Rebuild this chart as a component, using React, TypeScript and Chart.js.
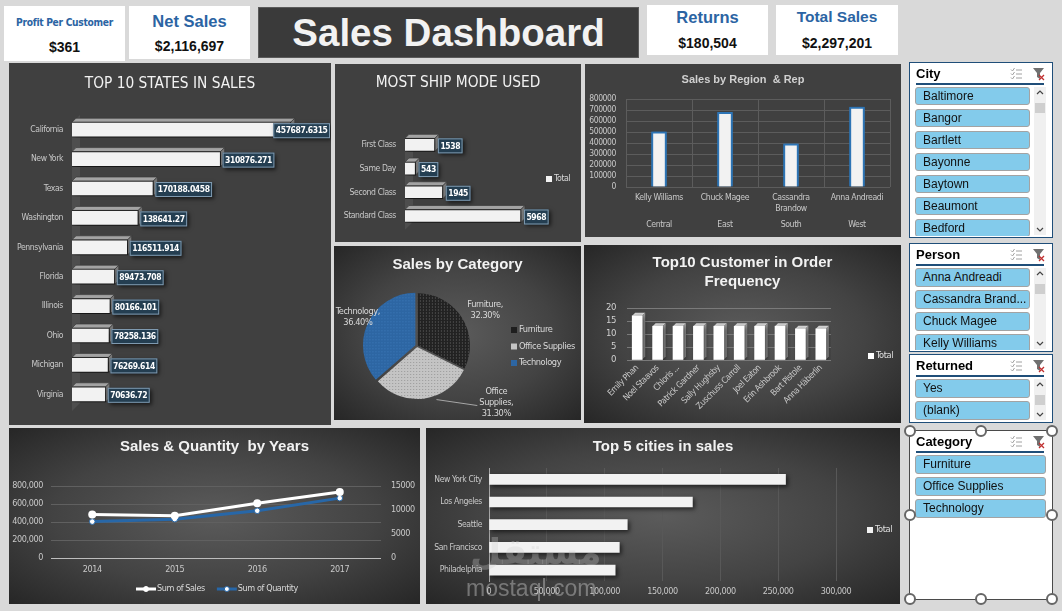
import React, { useEffect, useRef } from "react";
import { Chart, registerables } from "chart.js";
Chart.register(...registerables);

const NARROW = "'Liberation Sans Narrow', 'DejaVu Sans Condensed', 'Liberation Sans', sans-serif";
const SANS = "'Liberation Sans', Arial, sans-serif";

// ---------- data ----------
const kpiTitles = ["Profit Per Customer", "Net Sales", "Returns", "Total Sales"];
const kpiValues = ["$361", "$2,116,697", "$180,504", "$2,297,201"];

const stateNames = ["California", "New York", "Texas", "Washington", "Pennsylvania", "Florida", "Illinois", "Ohio", "Michigan", "Virginia"];
const stateSales = [457687.6315, 310876.271, 170188.0458, 138641.27, 116511.914, 89473.708, 80166.101, 78258.136, 76269.614, 70636.72];

const shipModes = ["First Class", "Same Day", "Second Class", "Standard Class"];
const shipCounts = [1538, 543, 1945, 5968];

const regionReps = ["Kelly Williams", "Chuck Magee", "Cassandra Brandow", "Anna Andreadi"];
const regionNames = ["Central", "East", "South", "West"];
const regionSales = [501240, 678781, 391722, 725458];

const categoryNames = ["Furniture", "Office Supplies", "Technology"];
const categorySales = [741999.8, 719047.0, 836154.0];

const customerNames = ["Emily Phan", "Noel Staavos", "Chloris Kastensmidt", "Patrick Gardner", "Sally Hughsby", "Zuschuss Carroll", "Joel Eaton", "Erin Ashbrook", "Bart Pistole", "Anna Häberlin"];
const customerOrders = [17, 13, 13, 13, 13, 13, 13, 13, 12, 12];

const years = ["2014", "2015", "2016", "2017"];
const yearSales = [484247, 470533, 609206, 733215];
const yearQuantity = [7581, 8094, 9837, 12476];

const cityNames = ["New York City", "Los Angeles", "Seattle", "San Francisco", "Philadelphia"];
const citySales = [256368, 175851, 119541, 112669, 109077];

const slicerCity = ["Baltimore", "Bangor", "Bartlett", "Bayonne", "Baytown", "Beaumont", "Bedford"];
const slicerPerson = ["Anna Andreadi", "Cassandra Brandow", "Chuck Magee", "Kelly Williams"];
const slicerReturned = ["Yes", "(blank)"];
const slicerCategory = ["Furniture", "Office Supplies", "Technology"];

// ---------- plugins ----------
const tightText = {
  id: "tightText",
  beforeUpdate(chart: any, _a: any, o: any) { chart.ctx.letterSpacing = o.spacing; },
  beforeLayout(chart: any, _a: any, o: any) { chart.ctx.letterSpacing = o.spacing; },
  beforeDraw(chart: any, _a: any, o: any) { chart.ctx.letterSpacing = o.spacing; },
  defaults: { spacing: "-0.4px" },
};
Chart.register(tightText);

const bar3d = {
  id: "bar3d",
  beforeDatasetsDraw(chart: any, _a: any, o: any) {
    if (!o || !o.depth) return;
    const ctx = chart.ctx;
    const d = o.depth;
    const horiz = chart.options.indexAxis === "y";
    const ca = chart.chartArea;
    if (o.wall) {
      ctx.save();
      ctx.fillStyle = o.wall;
      ctx.beginPath();
      ctx.moveTo(ca.left, ca.top + 8);
      ctx.lineTo(ca.left + d * 2, ca.top);
      ctx.lineTo(ca.left + d * 2, ca.bottom - 6);
      ctx.lineTo(ca.left, ca.bottom + 2);
      ctx.closePath();
      ctx.fill();
      ctx.restore();
    }
    chart.getDatasetMeta(0).data.forEach((el: any) => {
      const p = el.getProps(["x", "y", "base", "width", "height"], true);
      let l, r, t, b;
      if (horiz) {
        l = Math.min(p.base, p.x); r = Math.max(p.base, p.x);
        t = p.y - p.height / 2; b = p.y + p.height / 2;
      } else {
        l = p.x - p.width / 2; r = p.x + p.width / 2;
        t = Math.min(p.y, p.base); b = Math.max(p.y, p.base);
      }
      ctx.save();
      ctx.fillStyle = o.top;
      ctx.beginPath();
      ctx.moveTo(l, t); ctx.lineTo(l + d, t - d); ctx.lineTo(r + d, t - d); ctx.lineTo(r, t);
      ctx.closePath(); ctx.fill();
      if (o.edge) { ctx.strokeStyle = o.edge; ctx.lineWidth = 0.7; ctx.stroke(); }
      ctx.fillStyle = o.side;
      ctx.beginPath();
      ctx.moveTo(r, t); ctx.lineTo(r + d, t - d); ctx.lineTo(r + d, b - d); ctx.lineTo(r, b);
      ctx.closePath(); ctx.fill();
      if (o.edge) ctx.stroke();
      ctx.restore();
    });
  },
};

const dsShadow = {
  id: "dsShadow",
  beforeDatasetsDraw(chart: any, _a: any, o: any) {
    if (!o || !o.color) return;
    const ctx = chart.ctx;
    ctx.save();
    ctx.shadowColor = o.color;
    ctx.shadowBlur = o.blur || 4;
    ctx.shadowOffsetX = o.x || 0;
    ctx.shadowOffsetY = o.y || 0;
  },
  afterDatasetsDraw(chart: any, _a: any, o: any) {
    if (!o || !o.color) return;
    chart.ctx.restore();
  },
};

const valueBox = {
  id: "valueBox",
  afterDatasetsDraw(chart: any, _a: any, o: any) {
    if (!o || !o.font) return;
    const ctx = chart.ctx;
    const ds = chart.data.datasets[0];
    ctx.save();
    ctx.font = o.font;
    chart.getDatasetMeta(0).data.forEach((el: any, i: number) => {
      const text = String(ds.data[i]);
      const w = ctx.measureText(text).width + 5;
      const h = o.h;
      let bx = el.x + o.gap;
      if (bx + w > chart.width - 1) bx = chart.width - 1 - w;
      const by = el.y - h / 2 + (o.dy || 0);
      ctx.save();
      ctx.shadowColor = "rgba(0,0,0,0.6)";
      ctx.shadowBlur = 4;
      ctx.shadowOffsetX = 2;
      ctx.shadowOffsetY = 2;
      ctx.fillStyle = o.fill;
      ctx.fillRect(bx, by, w, h);
      ctx.restore();
      ctx.strokeStyle = o.stroke;
      ctx.lineWidth = 1;
      ctx.strokeRect(bx + 0.5, by + 0.5, w - 1, h - 1);
      ctx.fillStyle = "#ffffff";
      ctx.textBaseline = "middle";
      ctx.textAlign = "left";
      ctx.fillText(text, bx + 2.5, by + h / 2 + 0.5);
    });
    ctx.restore();
  },
};

const manualLegend = {
  id: "manualLegend",
  afterDraw(chart: any, _a: any, o: any) {
    if (!o || !o.show) return;
    const ctx = chart.ctx;
    const items = o.fromData
      ? chart.data.labels.map((l: string, i: number) => ({ text: l, color: o.colors[i] }))
      : chart.data.datasets.map((d: any, i: number) => ({ text: d.label, color: o.colors ? o.colors[i] : d.borderColor }));
    ctx.save();
    ctx.font = o.font;
    ctx.textBaseline = "middle";
    ctx.textAlign = "left";
    let x = o.x;
    let y = o.y;
    items.forEach((it: any) => {
      let tx;
      if (o.marker === "line") {
        ctx.strokeStyle = it.color;
        ctx.lineWidth = 3;
        ctx.beginPath(); ctx.moveTo(x, y); ctx.lineTo(x + o.lineLen, y); ctx.stroke();
        ctx.fillStyle = "#ffffff";
        ctx.beginPath(); ctx.arc(x + o.lineLen / 2, y, 2.5, 0, Math.PI * 2); ctx.fill();
        ctx.lineWidth = 1; ctx.stroke();
        tx = x + o.lineLen + 1;
      } else {
        const s = o.box || 6;
        ctx.fillStyle = it.color;
        ctx.fillRect(x, y - s / 2, s, s);
        tx = x + s + 2;
      }
      ctx.fillStyle = o.textColor;
      ctx.fillText(it.text, tx, y);
      if (o.horizontal) x = tx + ctx.measureText(it.text).width + o.gap;
      else y += o.dy;
    });
    ctx.restore();
  },
};

const pieLabels = {
  id: "pieLabels",
  afterDatasetsDraw(chart: any, _a: any, o: any) {
    if (!o || !o.place) return;
    const ctx = chart.ctx;
    const data = chart.data.datasets[0].data;
    const total = data.reduce((s: number, v: number) => s + v, 0);
    ctx.save();
    ctx.font = o.font;
    ctx.fillStyle = o.color;
    ctx.textAlign = "center";
    ctx.textBaseline = "middle";
    chart.getDatasetMeta(0).data.forEach((arc: any, i: number) => {
      const p = arc.getProps(["x", "y", "startAngle", "endAngle", "outerRadius"], true);
      const mid = (p.startAngle + p.endAngle) / 2;
      const pl = o.place[i];
      const R = p.outerRadius + pl.dist;
      const cx = p.x + Math.cos(mid) * R + pl.dx;
      const cy = p.y + Math.sin(mid) * R + pl.dy;
      const label = chart.data.labels[i] + ",";
      const pct = ((data[i] / total) * 100).toFixed(2) + "%";
      const lines = pl.wrap ? [...label.split(" "), pct] : [label, pct];
      const lh = o.lineHeight;
      const y0 = cy - ((lines.length - 1) * lh) / 2;
      lines.forEach((ln: string, k: number) => ctx.fillText(ln, cx, y0 + k * lh));
      if (pl.leader) {
        const a = mid - 0.22;
        const sx = p.x + Math.cos(a) * (p.outerRadius + 5);
        const sy = p.y + Math.sin(a) * (p.outerRadius + 5);
        const w = ctx.measureText(lines[1]).width;
        ctx.strokeStyle = o.lineColor;
        ctx.lineWidth = 1;
        ctx.beginPath();
        ctx.moveTo(sx, sy);
        ctx.lineTo(cx - w / 2 - 2, y0 + lh + 3);
        ctx.stroke();
      }
    });
    ctx.restore();
  },
};

function dotPattern(ctx: CanvasRenderingContext2D, bg: string, dot: string, step: number) {
  const c = document.createElement("canvas");
  c.width = step; c.height = step;
  const g = c.getContext("2d")!;
  g.fillStyle = bg; g.fillRect(0, 0, step, step);
  g.fillStyle = dot; g.fillRect(1, 1, 1, 1);
  return ctx.createPattern(c, "repeat");
}

// ---------- components ----------
function ChartCanvas({ w, h, make }: { w: number; h: number; make: (ctx: CanvasRenderingContext2D) => any }) {
  const ref = useRef<HTMLCanvasElement>(null);
  useEffect(() => {
    const c = ref.current!;
    const ctx = c.getContext("2d")!;
    const chart = new Chart(ctx, make(ctx));
    return () => chart.destroy();
  }, []);
  return <canvas ref={ref} width={w} height={h} style={{ position: "absolute", left: 0, top: 0, width: w, height: h }} />;
}

const RADIAL = "radial-gradient(ellipse at 50% 50%, #5b5b5b 0%, #434343 55%, #262626 100%)";

function Panel(props: any) {
  const { x, y, w, h, bg, title, tTop, tFont, tColor, tLh, make } = props;
  return (
    <div style={{ position: "absolute", left: x, top: y, width: w, height: h, background: bg, overflow: "hidden" }}>
      <ChartCanvas w={w} h={h} make={make} />
      <div style={{ position: "absolute", left: 0, top: tTop, width: w, textAlign: "center", whiteSpace: "pre", font: tFont, color: tColor, lineHeight: tLh + "px" }}>{title}</div>
    </div>
  );
}

const truncate = (s: string, n: number) => (s.length > n ? s.slice(0, n) + "..." : s);

function FilterIcons({ x }: { x: number }) {
  return (
    <svg style={{ position: "absolute", left: x, top: 4 }} width="36" height="14" viewBox="0 0 36 14">
      <g stroke="#a0a0a0" strokeWidth="1" fill="none">
        <path d="M1 2.5 l1.5 1.5 l2 -3" />
        <path d="M1 6.5 l1.5 1.5 l2 -3" />
        <path d="M1 10.5 l1.5 1.5 l2 -3" />
        <line x1="6" y1="3" x2="12" y2="3" />
        <line x1="6" y1="7" x2="12" y2="7" />
        <line x1="6" y1="11" x2="12" y2="11" />
      </g>
      <path d="M23 1 h11 l-4 5 v6 l-3 -2 v-4 z" fill="#707070" />
      <path d="M29 8 l5 5 M34 8 l-5 5" stroke="#c03030" strokeWidth="1.3" />
    </svg>
  );
}

function Slicer(props: any) {
  const { x, y, w, h, title, items, scroll, handles, itemH, border } = props;
  const itemW = scroll ? 115 : 131;
  const listH = h - 26;
  return (
    <div style={{ position: "absolute", left: x, top: y, width: w, height: h, background: "#ffffff", border: `1px solid ${border || "#1f4e79"}`, boxSizing: "border-box" }}>
      <div style={{ position: "absolute", left: 6, top: 3, font: `bold 13px ${SANS}`, color: "#000", lineHeight: "15px" }}>{title}</div>
      <FilterIcons x={w - 44} />
      <div style={{ position: "absolute", left: 6, top: 20, width: w - 16, height: 2, background: "#1f4e79" }} />
      <div style={{ position: "absolute", left: 0, top: 23, width: w - 2, height: listH, overflow: "hidden" }}>
        {items.map((it: string, i: number) => (
          <div key={i} style={{ position: "absolute", left: 5, top: 1 + i * 22, width: itemW, height: itemH, background: "#83cbeb", border: "1px solid #a3a3a3", borderRadius: 3, boxSizing: "border-box", font: `12px ${SANS}`, lineHeight: itemH - 2 + "px", paddingLeft: 7, color: "#111", whiteSpace: "nowrap", overflow: "hidden" }}>{truncate(it, 15)}</div>
        ))}
      </div>
      {scroll && (
        <div style={{ position: "absolute", left: w - 20, top: 24, width: 12, height: listH - 2, background: "#f0f0f0" }}>
          <svg style={{ position: "absolute", left: 2, top: 2 }} width="8" height="6"><path d="M1 5 L4 2 L7 5" stroke="#444" fill="none" strokeWidth="1.2" /></svg>
          <div style={{ position: "absolute", left: 1, top: 16, width: 10, height: 10, background: "#cfcfcf" }} />
          <svg style={{ position: "absolute", left: 2, bottom: 2 }} width="8" height="6"><path d="M1 1 L4 4 L7 1" stroke="#444" fill="none" strokeWidth="1.2" /></svg>
        </div>
      )}
      {handles &&
        [[0, 0], [0.5, 0], [1, 0], [0, 0.5], [1, 0.5], [0, 1], [0.5, 1], [1, 1]].map((p, i) => (
          <div key={i} style={{ position: "absolute", left: p[0] * (w - 2) - 6, top: p[1] * (h - 2) - 6, width: 12, height: 12, borderRadius: 6, background: "#fff", border: "2px solid #666", boxSizing: "border-box" }} />
        ))}
    </div>
  );
}

function Kpi(props: any) {
  const { x, y, w, h, title, value, tSize, tTop, vTop, narrow } = props;
  return (
    <div style={{ position: "absolute", left: x, top: y, width: w, height: h, background: "#ffffff" }}>
      <div style={{ position: "absolute", left: 0, width: w, top: tTop, textAlign: "center", color: "#2b64a3", font: `bold ${tSize}px ${narrow ? NARROW : SANS}`, lineHeight: "20px", letterSpacing: narrow ? "-0.3px" : "normal" }}>{title}</div>
      <div style={{ position: "absolute", left: 0, width: w, top: vTop, textAlign: "center", color: "#111", font: `bold 14px ${SANS}`, lineHeight: "18px" }}>{value}</div>
    </div>
  );
}

// ---------- chart configs ----------
const LBL = "#c8c8c8";
const noTicks = { drawTicks: false };

function statesConfig() {
  return {
    type: "bar",
    data: { labels: stateNames, datasets: [{ label: "Total", data: stateSales, backgroundColor: "#f2f2f2", borderColor: "#2a2a2a", borderWidth: 1, barThickness: 15 }] },
    options: {
      indexAxis: "y", animation: false, responsive: false,
      layout: { padding: { top: 52, bottom: 16, left: 0, right: 20 } },
      plugins: {
        legend: { display: false }, tooltip: { enabled: false },
        bar3d: { depth: 4, top: "#a3a3a3", side: "#7a7a7a", edge: "#3a3a3a", wall: "#4e4e4e" },
        dsShadow: { color: "rgba(0,0,0,0.55)", blur: 5, x: 3, y: 3 },
        valueBox: { font: `bold 8.5px ${NARROW}`, fill: "#243e51", stroke: "#7f9ab0", h: 15, gap: 2, dy: 1 },
      },
      scales: {
        x: { display: false, min: 0, max: 500000 },
        y: { grid: { display: false, ...noTicks }, border: { display: false }, ticks: { color: LBL, font: { size: 8.6, family: NARROW }, padding: 9, autoSkip: false }, afterFit: (s: any) => { s.width = 63; } },
      },
    },
    plugins: [bar3d, dsShadow, valueBox],
  };
}

function shipConfig() {
  return {
    type: "bar",
    data: { labels: shipModes, datasets: [{ label: "Total", data: shipCounts, backgroundColor: "#f2f2f2", borderColor: "#2a2a2a", borderWidth: 1, barThickness: 13 }] },
    options: {
      indexAxis: "y", animation: false, responsive: false,
      layout: { padding: { top: 69, bottom: 12, left: 0, right: 40 } },
      plugins: {
        legend: { display: false }, tooltip: { enabled: false },
        bar3d: { depth: 4, top: "#a3a3a3", side: "#7a7a7a", edge: "#3a3a3a", wall: "#4e4e4e" },
        dsShadow: { color: "rgba(0,0,0,0.55)", blur: 5, x: 3, y: 3 },
        valueBox: { font: `bold 8.5px ${NARROW}`, fill: "#243e51", stroke: "#7f9ab0", h: 15, gap: 3, dy: 1 },
        manualLegend: { show: true, x: 211, y: 115, font: `8.8px ${NARROW}`, textColor: "#d9d9d9", colors: ["#f2f2f2"], box: 6 },
      },
      scales: {
        x: { display: false, min: 0, max: 7000 },
        y: { grid: { display: false, ...noTicks }, border: { display: false }, ticks: { color: LBL, font: { size: 8.6, family: NARROW }, padding: 9, autoSkip: false }, afterFit: (s: any) => { s.width = 70; } },
      },
    },
    plugins: [bar3d, dsShadow, valueBox, manualLegend],
  };
}

function regionConfig() {
  return {
    type: "bar",
    data: {
      labels: regionReps.map((r) => (r.length > 15 ? r.split(" ") : r)),
      datasets: [{ label: "Total", data: regionSales, backgroundColor: "#f2f2f2", borderColor: "#2e75b6", borderWidth: 2, barThickness: 15 }],
    },
    options: {
      animation: false, responsive: false,
      layout: { padding: { top: 35, bottom: 6, left: 0, right: 11 } },
      plugins: { legend: { display: false }, tooltip: { enabled: false }, dsShadow: { color: "rgba(46,117,182,0.9)", blur: 5 } },
      scales: {
        x: { grid: { color: "#5c5c5c", ...noTicks }, border: { display: false }, ticks: { color: LBL, font: { size: 8.7, family: NARROW }, padding: 6, autoSkip: false, maxRotation: 0 }, afterFit: (s: any) => { s.height = 28; } },
        x2: { type: "category", labels: regionNames, position: "bottom", grid: { display: false, ...noTicks }, border: { display: false }, ticks: { color: LBL, font: { size: 8.7, family: NARROW }, padding: 5 }, afterFit: (s: any) => { s.height = 16; } },
        y: { min: 0, max: 800000, grid: { color: "#5c5c5c", ...noTicks }, border: { display: false }, ticks: { stepSize: 100000, autoSkip: false, color: LBL, font: { size: 8.5, family: NARROW }, padding: 10, callback: (v: any) => String(v) }, afterFit: (s: any) => { s.width = 41; } },
      },
    },
    plugins: [dsShadow],
  };
}

function pieConfig(ctx: CanvasRenderingContext2D) {
  const pats = [dotPattern(ctx, "#222222", "#6a6a6a", 3), dotPattern(ctx, "#c4c4c4", "#9a9a9a", 3), dotPattern(ctx, "#2d66a3", "#3f7bbb", 3)];
  return {
    type: "pie",
    data: { labels: categoryNames, datasets: [{ data: categorySales, backgroundColor: pats, borderWidth: 0, offset: [4, 4, 7], radius: 52 }] },
    options: {
      animation: false, responsive: false,
      layout: { padding: { left: 25, top: 42, right: 106, bottom: 16 } },
      plugins: {
        legend: { display: false }, tooltip: { enabled: false },
        pieLabels: {
          font: `9.2px ${NARROW}`, color: "#d9d9d9", lineColor: "#a6a6a6", lineHeight: 11,
          place: [{ dist: 27, dx: 1, dy: 6 }, { dist: 5, dx: 72, dy: 0, wrap: true, leader: true }, { dist: 13, dx: 0, dy: -2 }],
        },
        manualLegend: { show: true, fromData: true, x: 177, y: 84, dy: 16.5, font: `9.2px ${NARROW}`, textColor: "#d9d9d9", colors: ["#1e1e1e", "#c4c4c4", "#2d66a3"], box: 6 },
      },
    },
    plugins: [pieLabels, manualLegend],
  };
}

function customerConfig() {
  return {
    type: "bar",
    data: { labels: customerNames.map((n) => (n.length > 17 ? n.split(" ")[0] + " ..." : n)), datasets: [{ label: "Total", data: customerOrders, backgroundColor: "#ffffff", borderWidth: 0, barThickness: 10 }] },
    options: {
      animation: false, responsive: false,
      layout: { padding: { top: 63, bottom: 0, left: 0, right: 70 } },
      plugins: {
        legend: { display: false }, tooltip: { enabled: false },
        bar3d: { depth: 3, top: "#d9d9d9", side: "#9a9a9a" },
        dsShadow: { color: "rgba(0,0,0,0.5)", blur: 4, x: 2, y: 1 },
        manualLegend: { show: true, x: 284, y: 111, font: `9.2px ${NARROW}`, textColor: "#e0e0e0", colors: ["#ffffff"], box: 6 },
      },
      scales: {
        x: { grid: { display: false, ...noTicks }, border: { display: false }, ticks: { color: LBL, font: { size: 8.7, family: NARROW }, padding: 3, autoSkip: false, minRotation: 45, maxRotation: 45 }, afterFit: (s: any) => { s.height = 63; } },
        y: { min: 0, max: 20, grid: { color: "#7a7a7a", ...noTicks }, border: { display: false }, ticks: { stepSize: 5, autoSkip: false, color: "#d0d0d0", font: { size: 9.5, family: NARROW }, padding: 11 }, afterFit: (s: any) => { s.width = 43; } },
      },
    },
    plugins: [bar3d, dsShadow, manualLegend],
  };
}

function lineConfig() {
  return {
    type: "line",
    data: {
      labels: years,
      datasets: [
        { label: "Sum of Sales", data: yearSales, borderColor: "#ffffff", backgroundColor: "#ffffff", borderWidth: 3, pointRadius: 4, pointBackgroundColor: "#ffffff", pointBorderColor: "#ffffff", pointBorderWidth: 0, yAxisID: "y" },
        { label: "Sum of Quantity", data: yearQuantity, borderColor: "#2767a8", backgroundColor: "#2767a8", borderWidth: 3, pointRadius: 2.8, pointBackgroundColor: "#ffffff", pointBorderColor: "#2767a8", pointBorderWidth: 1, yAxisID: "y1" },
      ],
    },
    options: {
      animation: false, responsive: false,
      layout: { padding: { top: 58, bottom: 0, left: 0, right: 0 } },
      plugins: {
        legend: { display: false }, tooltip: { enabled: false },
        manualLegend: { show: true, marker: "line", horizontal: true, x: 127, y: 161, lineLen: 20, gap: 12, font: `9px ${NARROW}`, textColor: "#d9d9d9", colors: ["#ffffff", "#2767a8"] },
      },
      scales: {
        x: { offset: true, grid: { display: false, ...noTicks }, border: { display: false }, ticks: { color: LBL, font: { size: 9, family: NARROW }, padding: 6 }, afterFit: (s: any) => { s.height = 46; } },
        y: { min: 0, max: 800000, grid: { color: (c: any) => (c.tick && c.tick.value === 0 ? "#bdbdbd" : "#606060"), ...noTicks }, border: { display: false }, ticks: { stepSize: 200000, color: LBL, font: { size: 9, family: NARROW }, padding: 8 }, afterFit: (s: any) => { s.width = 42; } },
        y1: { position: "right", min: 0, max: 15000, grid: { display: false, ...noTicks }, border: { display: false }, ticks: { stepSize: 5000, color: LBL, font: { size: 9, family: NARROW }, padding: 10, callback: (v: any) => String(v) }, afterFit: (s: any) => { s.width = 39; } },
      },
    },
    plugins: [manualLegend],
  };
}

function citiesConfig() {
  return {
    type: "bar",
    data: { labels: cityNames, datasets: [{ label: "Total", data: citySales, backgroundColor: "#f2f2f2", borderWidth: 0, barThickness: 10 }] },
    options: {
      indexAxis: "y", animation: false, responsive: false,
      layout: { padding: { top: 40, bottom: 0, left: 0, right: 64 } },
      plugins: {
        legend: { display: false }, tooltip: { enabled: false },
        dsShadow: { color: "rgba(0,0,0,0.6)", blur: 4, x: 2, y: 2 },
        manualLegend: { show: true, x: 441, y: 102, font: `9.2px ${NARROW}`, textColor: "#e0e0e0", colors: ["#f2f2f2"], box: 6 },
      },
      scales: {
        x: { min: 0, max: 300000, grid: { color: "#585858", ...noTicks }, border: { display: false }, ticks: { stepSize: 50000, color: LBL, font: { size: 9, family: NARROW }, padding: 5 }, afterFit: (s: any) => { s.height = 22.6; } },
        y: { grid: { display: false, ...noTicks }, border: { display: true, color: "#a6a6a6" }, ticks: { color: LBL, font: { size: 8.6, family: NARROW }, padding: 7, autoSkip: false }, afterFit: (s: any) => { s.width = 63; } },
      },
    },
    plugins: [dsShadow, manualLegend],
  };
}

// ---------- app ----------
export default function App() {
  const T16 = `15.3px ${NARROW}`;
  const TB = `bold 15px ${SANS}`;
  return (
    <div style={{ position: "fixed", left: 0, top: 0, width: 1062, height: 611, background: "#d9d9d9", overflow: "hidden", fontFamily: SANS }}>
      <Kpi x={4} y={6} w={121} h={55} title={kpiTitles[0]} value={kpiValues[0]} tSize={10.2} tTop={7} vTop={32} narrow />
      <Kpi x={129} y={6} w={121} h={53} title={kpiTitles[1]} value={kpiValues[1]} tSize={16.5} tTop={5} vTop={31} />
      <Kpi x={647} y={5} w={121} h={50} title={kpiTitles[2]} value={kpiValues[2]} tSize={16.5} tTop={2} vTop={29} />
      <Kpi x={776} y={5} w={122} h={50} title={kpiTitles[3]} value={kpiValues[3]} tSize={15.5} tTop={2} vTop={29} />

      <div style={{ position: "absolute", left: 258, top: 7, width: 381, height: 51, background: "#3a3a3a", boxShadow: "inset 0 0 0 1px #5a5a5a" }}>
        <div style={{ position: "absolute", left: 0, width: 381, top: 4, textAlign: "center", font: `bold 38.5px ${SANS}`, lineHeight: "44px", color: "#f2f2f2" }}>Sales Dashboard</div>
      </div>

      <Panel x={9} y={63} w={322} h={362} bg="#404040" title="TOP 10 STATES IN SALES" tTop={10} tFont={T16} tColor="#f2f2f2" tLh={20} make={statesConfig} />
      <Panel x={335} y={64} w={246} h={178} bg="#404040" title="MOST SHIP MODE USED" tTop={8} tFont={T16} tColor="#f2f2f2" tLh={20} make={shipConfig} />
      <Panel x={585} y={64} w={316} h={173} bg="#404040" title="Sales by Region  & Rep" tTop={8} tFont={`bold 11px ${SANS}`} tColor="#d0d0d0" tLh={14} make={regionConfig} />
      <Panel x={334} y={246} w={247} h={174} bg={RADIAL} title="Sales by Category" tTop={9} tFont={TB} tColor="#f2f2f2" tLh={18} make={pieConfig} />
      <Panel x={584} y={245} w={317} h={178} bg={RADIAL} title={"Top10 Customer in Order\nFrequency"} tTop={6.5} tFont={TB} tColor="#f2f2f2" tLh={19} make={customerConfig} />
      <Panel x={9} y={428} w={411} h={176} bg={RADIAL} title="Sales & Quantity  by Years" tTop={9} tFont={TB} tColor="#f2f2f2" tLh={18} make={lineConfig} />
      <Panel x={426} y={428} w={474} h={176} bg={RADIAL} title="Top 5 cities in sales" tTop={9} tFont={TB} tColor="#f2f2f2" tLh={18} make={citiesConfig} />

      <div style={{ position: "absolute", left: 470, top: 530, font: `bold 36px 'DejaVu Sans', sans-serif`, color: "rgba(205,205,205,0.3)", lineHeight: "44px", direction: "rtl" }}>مستقل</div>
      <div style={{ position: "absolute", left: 466, top: 574, font: `23px ${SANS}`, color: "rgba(200,200,200,0.45)", lineHeight: "28px" }}>mostaql.com</div>

      <Slicer x={909} y={62} w={144} h={176} title="City" items={slicerCity} scroll itemH={18} />
      <Slicer x={909} y={243} w={144} h={109} title="Person" items={slicerPerson} scroll itemH={19} />
      <Slicer x={909} y={354} w={144} h={69} title="Returned" items={slicerReturned} scroll itemH={19} />
      <Slicer x={909} y={430} w={144} h={170} title="Category" items={slicerCategory} itemH={19} handles border="#4a4a4a" />
    </div>
  );
}
